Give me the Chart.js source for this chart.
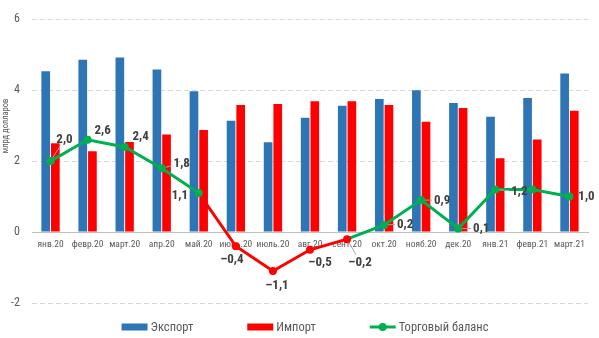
<!DOCTYPE html>
<html>
<head>
<meta charset="utf-8">
<script src="https://cdn.jsdelivr.net/npm/chart.js@4/dist/chart.umd.min.js"></script>
<style>
  html, body { margin: 0; padding: 0; background: #ffffff; }
  #wrap { width: 599px; height: 338px; position: relative; }
</style>
</head>
<body>
<div id="wrap"><canvas id="chart"></canvas></div>
<script>
// Monthly foreign trade, billion USD
const months = ['янв.20', 'февр.20', 'март.20', 'апр.20', 'май.20', 'июнь.20', 'июль.20', 'авг.20',
                'сент.20', 'окт.20', 'нояб.20', 'дек.20', 'янв.21', 'февр.21', 'март.21'];
const exportValues = [4.53, 4.86, 4.92, 4.58, 3.97, 3.14, 2.53, 3.22, 3.56, 3.75, 4.00, 3.64, 3.25, 3.78, 4.47];
const importValues = [2.50, 2.28, 2.54, 2.75, 2.88, 3.58, 3.61, 3.69, 3.69, 3.58, 3.11, 3.50, 2.08, 2.61, 3.42];
const balanceValues = [2.0, 2.6, 2.4, 1.8, 1.1, -0.4, -1.1, -0.5, -0.2, 0.2, 0.9, 0.1, 1.2, 1.2, 1.0];
const yTickValues = [-2, 0, 2, 4, 6];
const seriesNames = ['Экспорт', 'Импорт', 'Торговый баланс'];
const axisTitle = 'млрд долларов';

const BLUE = '#2E75B6';
const RED = '#FF0000';
const GREEN = '#00B050';
const TEXT = '#595959';
const FAMILY = 'Roboto, sans-serif';
// narrow width of the Roboto face, passed through the font shorthand
const STRETCH = 'condensed';
const cssFont = (size, bold) => (bold ? 'bold ' : '') + STRETCH + ' ' + size + 'px ' + FAMILY;

// where each balance label sits relative to its point (null = no label)
const labelPlacement = [[14, -22], [15, -10], [16, -11], [20, -5], [-19, 2], [-4, 13], [4, 14], [10, 12],
                        [13, 23], [21, -1], [21, 0], [23, 0], [24, 2], null, [17, 0]];

const fmt = v => (v < 0 ? '–' : '') + Math.abs(v).toFixed(1).replace('.', ',');

// value labels with leader lines for the balance series
const balanceLabels = {
  id: 'balanceLabels',
  afterDatasetsDraw(chart) {
    const meta = chart.getDatasetMeta(2);
    const ctx = chart.ctx;
    ctx.save();
    ctx.font = cssFont(13, true);
    ctx.textAlign = 'center';
    ctx.textBaseline = 'middle';
    meta.data.forEach((pt, i) => {
      const place = labelPlacement[i];
      if (!place) return;
      const text = fmt(balanceValues[i]);
      const cx = pt.x + place[0];
      const cy = pt.y + place[1];
      const hw = ctx.measureText(text).width / 2 + 2;
      const hh = 7;
      const dx = pt.x - cx, dy = pt.y - cy;
      const len = Math.hypot(dx, dy);
      const edge = len * Math.min(dx ? hw / Math.abs(dx) : Infinity, dy ? hh / Math.abs(dy) : Infinity);
      if (len - edge - 4 > 5.5) {
        const ux = dx / len, uy = dy / len;
        ctx.strokeStyle = '#a6a6a6';
        ctx.lineWidth = 1;
        ctx.beginPath();
        ctx.moveTo(cx + ux * edge, cy + uy * edge);
        ctx.lineTo(pt.x - ux * 4, pt.y - uy * 4);
        ctx.stroke();
      }
      ctx.fillStyle = '#404040';
      ctx.fillText(text, cx, cy + 0.5);
    });
    ctx.restore();
  }
};

// rotated y axis caption
const axisCaption = {
  id: 'axisCaption',
  afterDraw(chart) {
    const ctx = chart.ctx;
    ctx.save();
    ctx.translate(6, 126);
    ctx.rotate(-Math.PI / 2);
    ctx.font = cssFont(8.5);
    ctx.fillStyle = TEXT;
    ctx.textAlign = 'center';
    ctx.textBaseline = 'middle';
    ctx.fillText(axisTitle, 0, 0);
    ctx.restore();
  }
};

// legend row under the plot
const bottomLegend = {
  id: 'bottomLegend',
  afterDraw(chart) {
    const ctx = chart.ctx;
    const area = chart.chartArea;
    const box = 26, gapText = 3, gapItem = 54;
    ctx.save();
    ctx.font = cssFont(12.5);
    ctx.textBaseline = 'middle';
    ctx.textAlign = 'left';
    const widths = chart.data.datasets.map(ds => box + gapText + ctx.measureText(ds.label).width);
    const total = widths.reduce((a, b) => a + b, 0) + gapItem * (widths.length - 1);
    let x = (area.left + area.right) / 2 - 5 - total / 2;
    const y = 327;
    chart.data.datasets.forEach((ds, i) => {
      if (ds.type === 'line') {
        ctx.strokeStyle = GREEN;
        ctx.lineWidth = 3;
        ctx.beginPath();
        ctx.moveTo(x, y);
        ctx.lineTo(x + box, y);
        ctx.stroke();
        ctx.fillStyle = GREEN;
        ctx.beginPath();
        ctx.arc(x + box / 2, y, 4, 0, Math.PI * 2);
        ctx.fill();
      } else {
        ctx.fillStyle = ds.backgroundColor;
        ctx.fillRect(x, y - 3.5, box, 7);
      }
      ctx.fillStyle = TEXT;
      ctx.fillText(ds.label, x + box + gapText, y + 0.5);
      x += widths[i] + gapItem;
    });
    ctx.restore();
  }
};

new Chart(document.getElementById('chart'), {
  data: {
    labels: months,
    datasets: [
      {
        type: 'bar', label: seriesNames[0], data: exportValues,
        backgroundColor: BLUE, order: 2,
        barPercentage: 0.9, categoryPercentage: 0.52
      },
      {
        type: 'bar', label: seriesNames[1], data: importValues,
        backgroundColor: RED, order: 2,
        barPercentage: 0.9, categoryPercentage: 0.52
      },
      {
        type: 'line', label: seriesNames[2], data: balanceValues,
        borderColor: GREEN, borderWidth: 3, order: 0,
        pointRadius: 4, pointHoverRadius: 4, pointBorderWidth: 0,
        pointBackgroundColor: balanceValues.map(v => v < 0 ? RED : GREEN),
        segment: { borderColor: c => c.p1.parsed.y < 0 ? RED : GREEN },
        tension: 0
      }
    ]
  },
  options: {
    responsive: true,
    maintainAspectRatio: false,
    animation: false,
    events: [],
    layout: { padding: { top: 5, right: 11, bottom: 35, left: 0 } },
    plugins: { legend: { display: false }, tooltip: { enabled: false } },
    scales: {
      x: {
        position: { y: 0 },
        grid: { display: false, drawTicks: false },
        border: { display: true, color: '#bfbfbf', width: 1 },
        ticks: { color: TEXT, font: { family: FAMILY, weight: STRETCH, size: 9.5 }, padding: 7, maxRotation: 0, autoSkip: false }
      },
      y: {
        min: -2, max: 6,
        afterBuildTicks: s => { s.ticks = yTickValues.map(v => ({ value: v })); },
        afterFit: s => { s.width = 32; },
        border: { display: false, dash: [5, 3] },
        grid: { color: '#d9d9d9', lineWidth: 1, drawTicks: false },
        ticks: { color: TEXT, font: { family: FAMILY, weight: STRETCH, size: 12 }, padding: 12 }
      }
    }
  },
  plugins: [balanceLabels, axisCaption, bottomLegend]
});
</script>
</body>
</html>
